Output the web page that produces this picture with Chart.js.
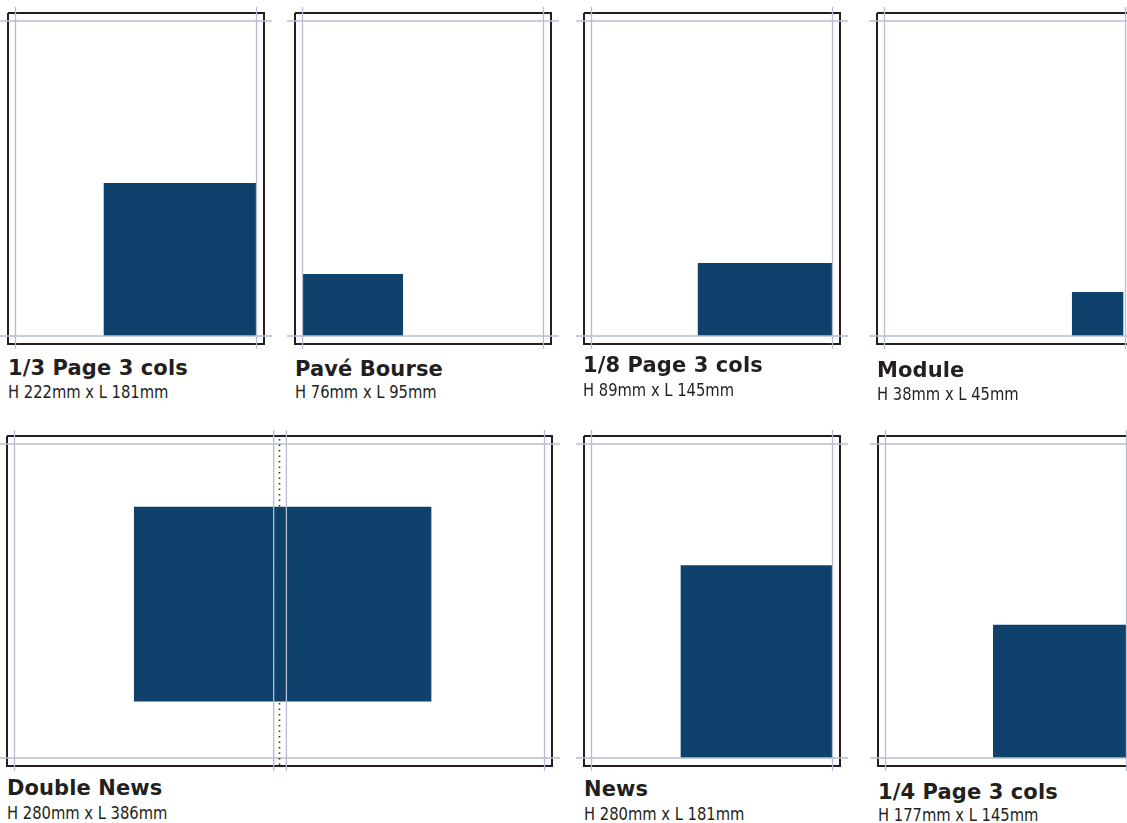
<!DOCTYPE html>
<html>
<head>
<meta charset="utf-8">
<script src="https://cdn.jsdelivr.net/npm/chart.js@4.4.1/dist/chart.umd.min.js"></script>
<style>
  html, body { margin: 0; padding: 0; background: #fff; width: 1127px; height: 823px; overflow: hidden; }
  .panel { position: absolute; }
  .title { position: absolute; font-family: "DejaVu Sans", sans-serif; font-weight: bold; font-size: 21px; line-height: 1; color: #231f20; white-space: nowrap; letter-spacing: 0.1px; }
  .sub { position: absolute; font-family: "DejaVu Sans Condensed", "DejaVu Sans", sans-serif; font-stretch: condensed; font-size: 18px; line-height: 1; color: #231f20; white-space: nowrap; transform: scaleX(0.91); transform-origin: 0 0; }
</style>
</head>
<body>
<script>
// ---- data: advertising formats ----
const formatNames = ['1/3 Page 3 cols', 'Pavé Bourse', '1/8 Page 3 cols', 'Module', 'Double News', 'News', '1/4 Page 3 cols'];
const heightMm = [222, 76, 89, 38, 280, 280, 177];
const widthMm  = [181, 95, 145, 45, 386, 181, 145];
// ad block extent, in % of the page type area (0 = left / bottom guide, 100 = right / top guide)
const blockLeft   = [36.5, 0, 44, 77.7, 22.5, 36.9, 44.6];
const blockRight  = [100, 41.7, 100, 99.2, 78.7, 100, 100];
const blockBottom = [0, 0, 0, 0, 18, 0, 0];
const blockTop    = [48.6, 19.7, 23.2, 14, 80, 61.4, 42.4];
// extra vertical guides (gutter of a spread) and fold line, in % of type area
const gutterGuides = [[], [], [], [], [48.9, 51.3], [], []];
const foldLine = [null, null, null, null, 50, null, null];

// ---- layout (pixels) ----
const frames = [
  {l: 8,   t: 13,  r: 264,  b: 344, tx: 8,   tb: 376, sb: 398},
  {l: 295, t: 13,  r: 551,  b: 344, tx: 295, tb: 377, sb: 398},
  {l: 584, t: 13,  r: 840,  b: 344, tx: 583, tb: 373, sb: 396},
  {l: 877, t: 13,  r: 1133, b: 344, tx: 877, tb: 378, sb: 400},
  {l: 7,   t: 436, r: 552,  b: 766, tx: 7,   tb: 796, sb: 819},
  {l: 584, t: 436, r: 840,  b: 766, tx: 584, tb: 797, sb: 820},
  {l: 878, t: 436, r: 1134, b: 766, tx: 878, tb: 800, sb: 821}
];
const BLOCK = '#0e416b', GUIDE = '#b7bcd3', FRAME = '#231f20';

function makePanel(i) {
  const f = frames[i];
  const pad = 10;
  const cl = f.l - pad, ct = f.t - pad, cw = f.r - f.l + 2 * pad, ch = f.b - f.t + 2 * pad;
  const gl = f.l + 7.5, gr = f.r - 7.5, gt = f.t + 8, gb = f.b - 8;
  const ux = px => (px - gl) / (gr - gl) * 100;
  const uy = py => (gb - py) / (gb - gt) * 100;

  const div = document.createElement('div');
  div.className = 'panel';
  Object.assign(div.style, {left: cl + 'px', top: ct + 'px', width: cw + 'px', height: ch + 'px'});
  const cv = document.createElement('canvas');
  div.appendChild(cv);
  document.body.appendChild(div);

  const line = (pts, color, width, order, extra) => Object.assign({
    data: pts, borderColor: color, borderWidth: width, pointRadius: 0, fill: false, tension: 0, order: order
  }, extra || {});

  const datasets = [];
  // ad block: top edge filled down to its bottom value
  datasets.push(line([{x: blockLeft[i], y: blockTop[i]}, {x: blockRight[i], y: blockTop[i]}], BLOCK, 0, 4,
    {fill: {value: blockBottom[i]}, backgroundColor: BLOCK}));
  // page frame
  datasets.push(line([
    {x: ux(f.l), y: uy(f.t)}, {x: ux(f.r), y: uy(f.t)}, {x: ux(f.r), y: uy(f.b)},
    {x: ux(f.l), y: uy(f.b)}, {x: ux(f.l), y: uy(f.t)}], FRAME, 2, 3));
  // horizontal guides
  [0, 100].forEach(v => datasets.push(line([{x: ux(f.l - 8), y: v}, {x: ux(f.r + 8), y: v}], GUIDE, 1.3, 2)));
  // vertical guides
  [0, 100].concat(gutterGuides[i]).forEach(v =>
    datasets.push(line([{x: v, y: uy(f.b + 5)}, {x: v, y: uy(f.t - 6)}], GUIDE, 1.3, 2)));
  // fold line (dotted)
  if (foldLine[i] !== null) {
    datasets.push(line([{x: foldLine[i], y: uy(f.t + 3)}, {x: foldLine[i], y: uy(f.b - 1)}], '#333333', 1.6, 1,
      {borderDash: [1.5, 4]}));
  }

  new Chart(cv, {
    type: 'line',
    data: {datasets},
    options: {
      animation: false, responsive: true, maintainAspectRatio: false,
      layout: {padding: 0},
      plugins: {legend: {display: false}, tooltip: {enabled: false}},
      scales: {
        x: {type: 'linear', display: false, min: ux(cl), max: ux(cl + cw)},
        y: {type: 'linear', display: false, min: uy(ct + ch), max: uy(ct)}
      }
    }
  });

  const t = document.createElement('div');
  t.className = 'title';
  t.textContent = formatNames[i];
  t.style.left = f.tx + 'px';
  t.style.top = (f.tb - 17.8) + 'px';
  document.body.appendChild(t);

  const s = document.createElement('div');
  s.className = 'sub';
  s.textContent = 'H ' + heightMm[i] + 'mm x L ' + widthMm[i] + 'mm';
  s.style.left = f.tx + 'px';
  s.style.top = (f.sb - 15.2) + 'px';
  document.body.appendChild(s);
}

for (let i = 0; i < formatNames.length; i++) makePanel(i);
</script>
</body>
</html>
